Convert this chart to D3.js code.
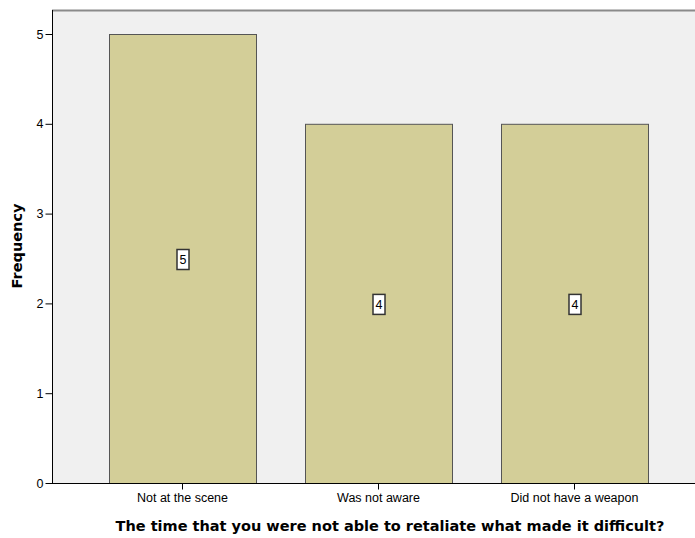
<!DOCTYPE html>
<html><head><meta charset="utf-8">
<script src="https://cdn.jsdelivr.net/npm/d3@7"></script>
<style>body{margin:0;background:#fff;} svg{display:block;}</style>
</head><body>
<svg id="c" width="695" height="538"></svg>
<script>
const categories = ["Not at the scene", "Was not aware", "Did not have a weapon"];
const frequencies = [5, 4, 4];
const yTicks = [0, 1, 2, 3, 4, 5];
const xTitle = "The time that you were not able to retaliate what made it difficult?";
const yTitle = "Frequency";

const svg = d3.select("#c");
const plotL = 52, plotT = 10, plotR = 695, plotB = 483;
const y = d3.scaleLinear().domain([0, 5]).range([plotB, 34]);
const x = d3.scaleBand().domain(categories).range([84.5, 672.5]).paddingInner(0.25).paddingOuter(0.125);
const font = "Liberation Sans, Arial, sans-serif";

svg.append("rect").attr("x", plotL).attr("y", plotT).attr("width", plotR - plotL).attr("height", plotB - plotT).attr("fill", "#f0f0f0");
svg.append("line").attr("x1", plotL).attr("x2", plotR).attr("y1", plotT + 0.5).attr("y2", plotT + 0.5).attr("stroke", "#8a8a8a").attr("stroke-width", 2);

svg.selectAll(".bar").data(frequencies).enter().append("rect")
  .attr("x", (d, i) => x(categories[i]) + 0.5)
  .attr("y", d => y(d) + 0.5)
  .attr("width", x.bandwidth())
  .attr("height", d => plotB - y(d))
  .attr("fill", "#d3ce98").attr("stroke", "#555").attr("stroke-width", 1);

const yAxis = d3.axisLeft(y).tickValues(yTicks).tickSize(7).tickPadding(2).tickFormat(d3.format("d"));
const gy = svg.append("g").attr("transform", `translate(${plotL + 0.5},0)`).call(yAxis);
gy.select(".domain").attr("d", `M0,${plotT}V${plotB + 0.5}`).attr("stroke", "#000");
gy.selectAll("text").attr("font-family", font).attr("font-size", 12.5).attr("fill", "#000");

const xAxis = d3.axisBottom(x).tickSize(6).tickSizeOuter(0);
const gx = svg.append("g").attr("transform", `translate(0,${plotB + 0.5})`).call(xAxis);
gx.select(".domain").attr("d", `M${plotL},0H${plotR}`).attr("stroke", "#000");
gx.selectAll("text").attr("font-family", font).attr("font-size", 12.5).attr("fill", "#000").attr("y", 10).attr("dy", "0.71em");

// value labels
const lab = svg.selectAll(".lab").data(frequencies).enter().append("g")
  .attr("transform", (d, i) => `translate(${x(categories[i]) + x.bandwidth() / 2 + 0.5},${(y(d) + plotB) / 2 + 1})`);
lab.append("rect").attr("x", -6).attr("y", -10).attr("width", 12).attr("height", 20)
  .attr("fill", "#fff").attr("stroke", "#333").attr("stroke-width", 1.5);
lab.append("text").text(d => d).attr("text-anchor", "middle").attr("dy", "0.36em")
  .attr("font-family", font).attr("font-size", 12.5).attr("fill", "#000");

svg.append("text").attr("x", 390).attr("y", 531).attr("text-anchor", "middle")
  .attr("font-family", "DejaVu Sans, sans-serif").attr("font-weight", "bold").attr("font-size", 14.5).text(xTitle);
svg.append("text").attr("transform", `translate(22,${246}) rotate(-90)`).attr("text-anchor", "middle")
  .attr("font-family", "DejaVu Sans, sans-serif").attr("font-weight", "bold").attr("font-size", 14.5).text(yTitle);
</script>
</body></html>
